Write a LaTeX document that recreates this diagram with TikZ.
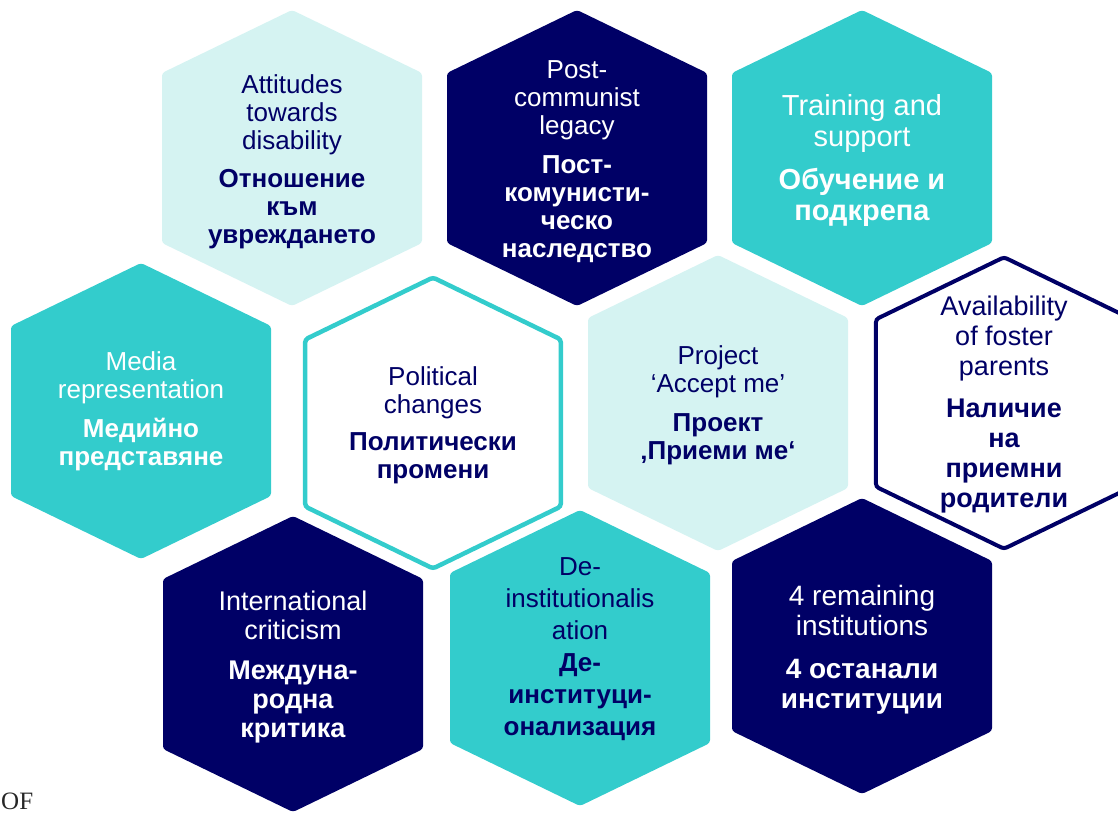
\documentclass[tikz,border=0pt]{standalone}
\usepackage{fontspec}
\setmainfont{Liberation Sans}
\newfontfamily\logofont{Liberation Serif}
\definecolor{hexnavy}{RGB}{0,0,102}
\definecolor{hexcyan}{RGB}{51,204,204}
\definecolor{hexlight}{RGB}{213,243,242}
\tikzset{
  hexa/.pic={\path[pic actions,rounded corners=3pt] (0,-148) -- (130,-85) -- (130,85) -- (0,148) -- (-130,85) -- (-130,-85) -- cycle;},
  lightcell/.style={fill=hexlight},
  cyancell/.style={fill=hexcyan},
  navycell/.style={fill=hexnavy},
  hextext/.style={align=center,font=\fontsize{26}{28}\selectfont},
}

\begin{document}
\begin{tikzpicture}[x=1pt,y=-1pt]
  \useasboundingbox (0,0) rectangle (1118,813);
  \clip (0,0) rectangle (1118,813);
  % top row
  \pic[lightcell] at (292,158) {hexa};
  \node[hextext,text=hexnavy] (attitudes) at (292,162) {Attitudes\\towards\\disability\\[10pt]\textbf{Отношение}\\\textbf{към}\\\textbf{увреждането}};
  \pic[navycell] at (577,158) {hexa};
  \node[hextext,text=white] (legacy) at (577,162) {Post-\\communist\\legacy\\[11pt]\textbf{Пост-}\\\textbf{комунисти-}\\\textbf{ческо}\\\textbf{наследство}};
  \pic[cyancell] at (862,158) {hexa};
  \node[hextext,text=white,font=\fontsize{29}{31}\selectfont] (training) at (862,161) {Training and\\support\\[12pt]\textbf{Обучение и}\\\textbf{подкрепа}};
  % middle row
  \pic[cyancell] at (141,411) {hexa};
  \node[hextext,text=white] (media) at (141,411) {Media\\representation\\[11pt]\textbf{Медийно}\\\textbf{представяне}};
  \pic[draw=hexcyan,fill=white,line width=4.5pt,scale=0.983] at (433,423) {hexa};
  \node[hextext,text=hexnavy] (political) at (433,425) {Political\\changes\\[9pt]\textbf{Политически}\\\textbf{промени}};
  \pic[lightcell] at (718,403) {hexa};
  \node[hextext,text=hexnavy] (project) at (718,405) {Project\\‘Accept me’\\[11pt]\textbf{Проект}\\\textbf{‚Приеми ме‘}};
  \pic[draw=hexnavy,fill=white,line width=4pt,scale=0.985] at (1004,403) {hexa};
  \node[hextext,text=hexnavy,font=\fontsize{27}{30}\selectfont] (foster) at (1004,405) {Availability\\of foster\\parents\\[12pt]\textbf{Наличие}\\\textbf{на}\\\textbf{приемни}\\\textbf{родители}};
  % bottom row
  \pic[navycell] at (293,664) {hexa};
  \node[hextext,text=white,font=\fontsize{27}{29}\selectfont] (criticism) at (293,667) {International\\criticism\\[11pt]\textbf{Междуна-}\\\textbf{родна}\\\textbf{критика}};
  \pic[cyancell] at (580,658) {hexa};
  \node[hextext,text=hexnavy,font=\fontsize{26}{32}\selectfont] (deinst) at (580,649) {De-\\institutionalis\\ation\\\textbf{Де-}\\\textbf{институци-}\\\textbf{онализация}};
  \pic[navycell] at (862,646) {hexa};
  \node[hextext,text=white,font=\fontsize{28}{30}\selectfont] (remaining) at (862,650) {4 remaining\\institutions\\[13pt]\textbf{4 останали}\\\textbf{институции}};
  % logo fragment
  \node[anchor=base west,inner sep=0pt,font=\logofont\fontsize{25}{25}\selectfont,text=black!85] (logo) at (1,809) {OF};
\end{tikzpicture}
\end{document}
